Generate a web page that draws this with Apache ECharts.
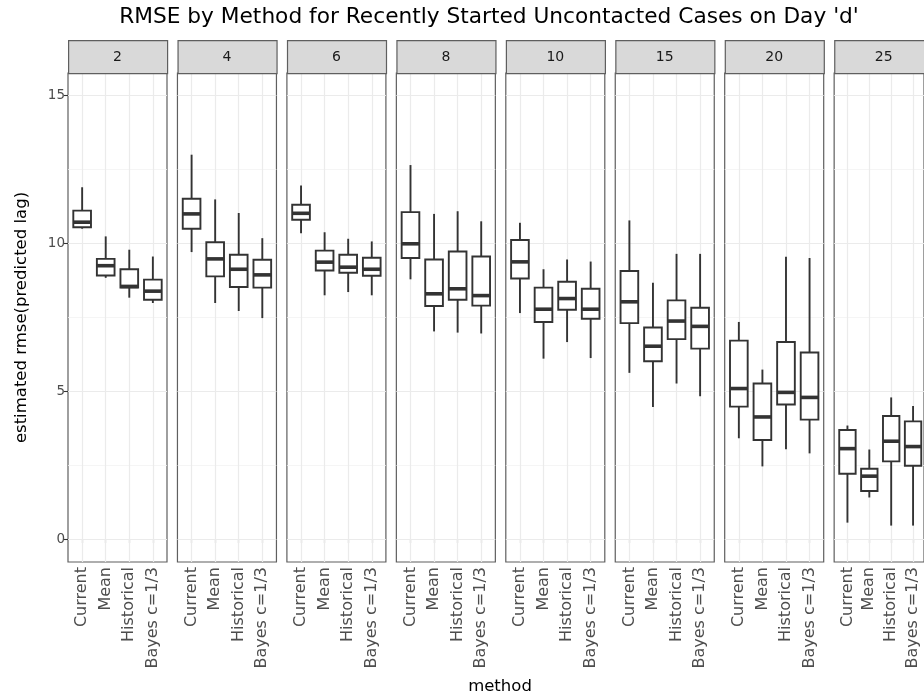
<!DOCTYPE html>
<html>
<head>
<meta charset="utf-8">
<script src="https://cdn.jsdelivr.net/npm/echarts@6/dist/echarts.min.js"></script>
<style>
  html, body { margin: 0; padding: 0; background: #fff; }
  #chart { width: 924px; height: 700px; }
</style>
</head>
<body>
<div id="chart"></div>
<script>
// Facets (day 'd') and the four estimation methods
const FACETS = ['2', '4', '6', '8', '10', '15', '20', '25'];
const METHODS = ['Current', 'Mean', 'Historical', 'Bayes c=1/3'];

// Five-number summaries per facet: [lower whisker, Q1, median, Q3, upper whisker]
const CURRENT = [
  [10.49, 10.54, 10.71, 11.10, 11.89],
  [9.70, 10.49, 10.99, 11.50, 12.99],
  [10.34, 10.79, 11.01, 11.30, 11.95],
  [8.78, 9.50, 9.98, 11.05, 12.64],
  [7.64, 8.81, 9.37, 10.11, 10.69],
  [5.62, 7.30, 8.02, 9.06, 10.77],
  [3.41, 4.48, 5.09, 6.71, 7.34],
  [0.56, 2.21, 3.06, 3.69, 3.84]
];
const MEAN = [
  [8.83, 8.91, 9.24, 9.47, 10.23],
  [7.98, 8.88, 9.47, 10.03, 11.48],
  [8.24, 9.08, 9.36, 9.75, 10.37],
  [7.02, 7.88, 8.29, 9.45, 10.99],
  [6.10, 7.34, 7.77, 8.50, 9.12],
  [4.47, 6.01, 6.52, 7.15, 8.66],
  [2.46, 3.35, 4.13, 5.26, 5.73],
  [1.41, 1.63, 2.13, 2.38, 3.03]
];
const HISTORICAL = [
  [8.16, 8.50, 8.54, 9.12, 9.78],
  [7.71, 8.52, 9.12, 9.61, 11.02],
  [8.35, 9.00, 9.19, 9.61, 10.15],
  [6.98, 8.09, 8.46, 9.72, 11.08],
  [6.66, 7.75, 8.13, 8.70, 9.45],
  [5.26, 6.76, 7.37, 8.07, 9.64],
  [3.04, 4.55, 4.96, 6.66, 9.54],
  [0.46, 2.63, 3.31, 4.16, 4.79]
];
const BAYES = [
  [7.98, 8.09, 8.38, 8.77, 9.55],
  [7.47, 8.50, 8.93, 9.44, 10.17],
  [8.24, 8.90, 9.12, 9.51, 10.06],
  [6.95, 7.89, 8.23, 9.55, 10.74],
  [6.12, 7.45, 7.77, 8.46, 9.38],
  [4.83, 6.44, 7.19, 7.82, 9.64],
  [2.90, 4.04, 4.79, 6.31, 9.50],
  [0.46, 2.48, 3.13, 3.98, 4.50]
];

const Y_TICKS = [0, 5, 10, 15];
const Y_MINOR = [2.5, 7.5, 12.5];
const Y_MIN = -0.77;
const Y_MAX = 15.75;

const TITLE = "RMSE by Method for Recently Started Uncontacted Cases on Day 'd'";
const Y_TITLE = 'estimated rmse(predicted lag)';
const X_TITLE = 'method';

// ---- layout ----
const FONT = 'DejaVu Sans';
const PANEL_LEFT0 = 68;
const PANEL_STEP = 109.45;
const PANEL_W = 99;
const PANEL_TOP = 73;
const PANEL_H = 489;
const STRIP_TOP = 40;
const STRIP_H = PANEL_TOP - STRIP_TOP;
// discrete scale spans 0.4..4.6, so the category bands sit inset by 0.1 unit
const INSET = PANEL_W * 0.1 / 4.2;
const FRAME = '#5f5f5f';
const INK = '#333333';
const BOX_LW = 1.9;
const MEDIAN_LW = 3.6;

const BY_METHOD = [CURRENT, MEAN, HISTORICAL, BAYES];

function whisker(x, y1, y2) {
  return {
    type: 'line',
    shape: { x1: x, y1: y1, x2: x, y2: y2 },
    style: { stroke: INK, lineWidth: BOX_LW, fill: 'none' }
  };
}

function renderBox(params, api) {
  const c = api.value(0);
  const p = [1, 2, 3, 4, 5].map(i => api.coord([c, api.value(i)]));
  const x = p[0][0];
  const hw = api.size([1, 0])[0] * 0.75 / 2;
  return {
    type: 'group',
    children: [
      whisker(x, p[0][1], p[1][1]),
      whisker(x, p[3][1], p[4][1]),
      {
        type: 'rect',
        shape: { x: x - hw, y: p[3][1], width: hw * 2, height: p[1][1] - p[3][1] },
        style: { fill: '#fff', stroke: INK, lineWidth: BOX_LW }
      },
      {
        type: 'line',
        shape: { x1: x - hw, y1: p[2][1], x2: x + hw, y2: p[2][1] },
        style: { stroke: INK, lineWidth: MEDIAN_LW, fill: 'none' }
      }
    ]
  };
}

// grid lines drawn beneath the boxes
function gridLines(items) {
  return {
    silent: true, z: 1, symbol: ['none', 'none'], animation: false,
    label: { show: false }, emphasis: { disabled: true },
    data: items
  };
}

const grid = [], xAxis = [], yAxis = [], series = [], graphic = [];

FACETS.forEach((facet, p) => {
  const left = PANEL_LEFT0 + p * PANEL_STEP;
  const fi = 2 * p, di = 2 * p + 1;

  // panel frame with horizontal grid lines
  grid.push({ left: left, top: PANEL_TOP, width: PANEL_W, height: PANEL_H, show: true,
    backgroundColor: '#fff', borderColor: FRAME, borderWidth: 1.2 });
  xAxis.push({ gridIndex: fi, type: 'value', min: 0, max: 1, show: false });
  yAxis.push({
    gridIndex: fi, type: 'value', min: Y_MIN, max: Y_MAX, show: p === 0,
    axisLine: { show: false },
    axisTick: { show: true, length: 4, customValues: Y_TICKS, lineStyle: { color: INK, width: 1.1 } },
    axisLabel: { customValues: Y_TICKS, color: '#4D4D4D', fontSize: 13.5, fontFamily: FONT, margin: 3 },
    splitLine: { show: false },
    name: p === 0 ? Y_TITLE : '', nameLocation: 'middle', nameGap: 38,
    nameTextStyle: { color: '#000', fontSize: 16.5, fontFamily: FONT }
  });

  // category area for the boxes
  grid.push({ left: left + INSET, top: PANEL_TOP, width: PANEL_W - 2 * INSET, height: PANEL_H, show: false });
  xAxis.push({
    gridIndex: di, type: 'category', data: METHODS,
    axisLine: { show: false },
    axisTick: { show: true, alignWithLabel: true, length: 4, lineStyle: { color: INK, width: 1.1 } },
    axisLabel: { rotate: 90, interval: 0, color: '#4D4D4D', fontSize: 16, fontFamily: FONT, margin: 5 },
    splitLine: { show: false }
  });
  yAxis.push({ gridIndex: di, type: 'value', min: Y_MIN, max: Y_MAX, show: false });

  series.push({
    type: 'line', xAxisIndex: fi, yAxisIndex: fi, data: [], silent: true, z: 1,
    markLine: gridLines(
      Y_MINOR.map(v => ({ yAxis: v, lineStyle: { color: '#F2F2F2', width: 0.8, type: 'solid' } }))
        .concat(Y_TICKS.map(v => ({ yAxis: v, lineStyle: { color: '#EBEBEB', width: 1.2, type: 'solid' } })))
    )
  });
  series.push({
    type: 'line', xAxisIndex: di, yAxisIndex: di, data: [], silent: true, z: 1,
    markLine: gridLines(
      METHODS.map((m, i) => ({ xAxis: i, lineStyle: { color: '#EBEBEB', width: 1.2, type: 'solid' } }))
    )
  });
  series.push({
    type: 'custom', xAxisIndex: di, yAxisIndex: di, z: 6, silent: true,
    renderItem: renderBox,
    encode: { x: 0, y: [1, 2, 3, 4, 5] },
    data: METHODS.map((m, i) => [i].concat(BY_METHOD[i][p]))
  });

  // facet strip
  graphic.push({
    type: 'rect', left: left, top: STRIP_TOP, z: 10,
    shape: { x: 0, y: 0, width: PANEL_W, height: STRIP_H },
    style: { fill: '#D9D9D9', stroke: FRAME, lineWidth: 1.2 }
  });
  graphic.push({
    type: 'text', x: left + PANEL_W / 2, y: STRIP_TOP + STRIP_H / 2 + 0.5, z: 11,
    style: { text: facet, align: 'center', verticalAlign: 'middle', fill: '#1A1A1A', fontSize: 14, fontFamily: FONT }
  });
});

const chart = echarts.init(document.getElementById('chart'), null, { renderer: 'canvas' });
chart.setOption({
  animation: false,
  backgroundColor: '#fff',
  title: [
    { text: TITLE, left: 489, top: 6, padding: 0, textAlign: 'center',
      textStyle: { color: '#000', fontSize: 21.7, fontWeight: 'normal', fontFamily: FONT } },
    { text: X_TITLE, left: 500, top: 678, padding: 0, textAlign: 'center',
      textStyle: { color: '#000', fontSize: 16.5, fontWeight: 'normal', fontFamily: FONT } }
  ],
  grid: grid,
  xAxis: xAxis,
  yAxis: yAxis,
  series: series,
  graphic: graphic
});
</script>
</body>
</html>
